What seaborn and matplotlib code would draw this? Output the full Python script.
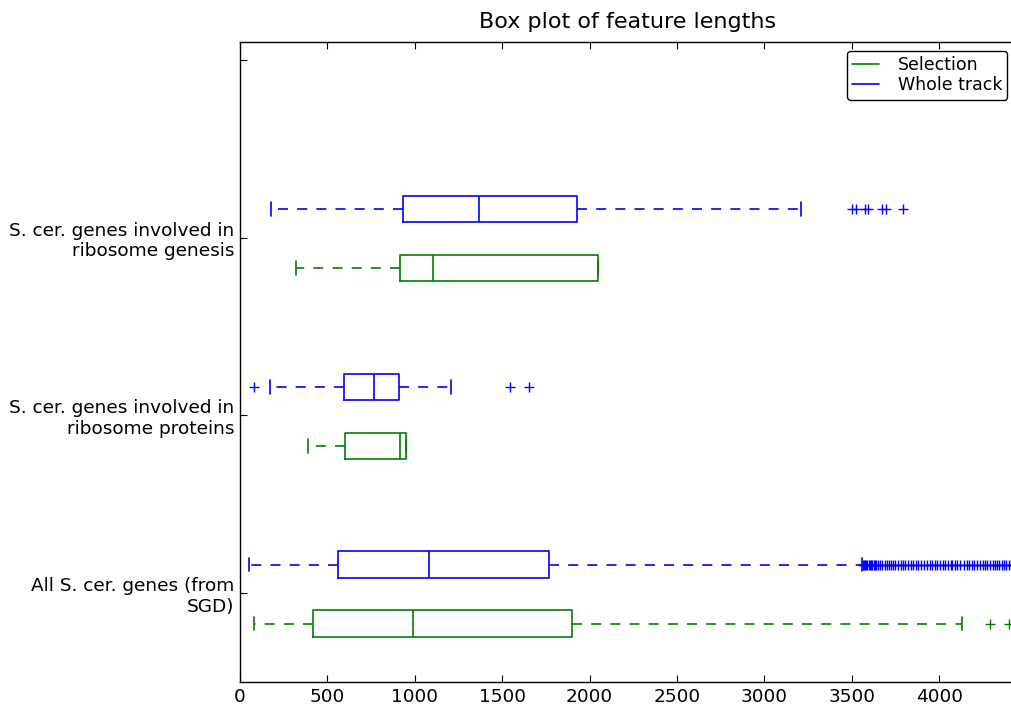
import matplotlib
matplotlib.use("Agg")
import matplotlib.pyplot as plt
from matplotlib.lines import Line2D
import seaborn as sns

# Feature groups (bottom to top)
categories = [
    "All S. cer. genes (from\nSGD)",
    "S. cer. genes involved in\nribosome proteins",
    "S. cer. genes involved in\nribosome genesis",
]
series_names = ["Selection", "Whole track"]

# Box statistics per group: whisker low, Q1, median, Q3, whisker high
selection_whislo = [81, 391, 322]
selection_q1 = [415, 601, 918]
selection_med = [991, 916, 1107]
selection_q3 = [1902, 951, 2047]
selection_whishi = [4131, 951, 2047]
selection_fliers = [
    [4289, 4398],
    [],
    [],
]

whole_whislo = [53, 171, 179]
whole_q1 = [563, 597, 935]
whole_med = [1083, 769, 1365]
whole_q3 = [1768, 912, 1927]
whole_whishi = [3558, 1208, 3210]
whole_fliers = [
    [3565, 3572, 3578, 3584, 3590, 3597, 3603, 3610, 3618, 3625, 3633, 3641,
     3650, 3662, 3675, 3690, 3703, 3712, 3724, 3738, 3750, 3766, 3780, 3792,
     3805, 3822, 3840, 3852, 3868, 3880, 3897, 3915, 3930, 3946, 3958, 3975,
     3990, 4008, 4022, 4035, 4050, 4066, 4074, 4090, 4105, 4121, 4140, 4158,
     4170, 4186, 4200, 4218, 4234, 4250, 4262, 4275, 4290, 4306, 4318, 4330,
     4345, 4360, 4372, 4385, 4398, 4410, 4425, 4436],
    [78, 1543, 1652],
    [3501, 3526, 3577, 3596, 3673, 3696, 3791],
]

x_ticks = [0, 500, 1000, 1500, 2000, 2500, 3000, 3500, 4000]

sns.set_style("white")
colors = sns.color_palette(["#008000", "#0000ff"])
plt.rcParams.update({
    "font.family": ["DejaVu Sans"],
    "font.size": 13.3,
    "text.color": "black",
    "axes.labelcolor": "black",
    "xtick.direction": "in",
    "ytick.direction": "in",
    "xtick.top": True,
    "ytick.right": False,
    "xtick.bottom": True,
    "ytick.left": True,
    "xtick.major.size": 5,
    "ytick.major.size": 5,
    "xtick.major.width": 0.8,
    "ytick.major.width": 0.8,
    "xtick.color": "black",
    "ytick.color": "black",
    "axes.edgecolor": "black",
    "axes.linewidth": 1.0,
})

fig = plt.figure(figsize=(10.11, 7.09), dpi=100)
ax = fig.add_axes([240 / 1011, 27 / 709, 776 / 1011, 640 / 709])

LW = 1.2
DASH = (0, (6, 5.5))


def build_stats(whislo, q1, med, q3, whishi, fliers):
    return [
        dict(whislo=a, q1=b, med=c, q3=d, whishi=e, fliers=f)
        for a, b, c, d, e, f in zip(whislo, q1, med, q3, whishi, fliers)
    ]


def draw(stats, positions, color):
    line = dict(color=color, linewidth=LW)
    ax.bxp(
        stats,
        positions=positions,
        widths=0.15,
        vert=False,
        showfliers=True,
        boxprops=line,
        medianprops=line,
        capprops=line,
        whiskerprops=dict(color=color, linewidth=LW, linestyle=DASH),
        flierprops=dict(marker="+", markeredgecolor=color, markersize=7,
                        markeredgewidth=1.0, linestyle="none"),
        manage_ticks=False,
    )


base = [1, 2, 3]
draw(build_stats(selection_whislo, selection_q1, selection_med, selection_q3,
                 selection_whishi, selection_fliers),
     [p - 0.172 for p in base], colors[0])
draw(build_stats(whole_whislo, whole_q1, whole_med, whole_q3,
                 whole_whishi, whole_fliers),
     [p + 0.16 for p in base], colors[1])

ax.set_xlim(0, 4440)
ax.set_ylim(0.5, 4.1)
ax.set_yticks([1, 2, 3, 4])
ax.set_yticklabels(categories + [""])
ax.set_xticks(x_ticks)
ax.set_xticklabels([str(t) for t in x_ticks])
ax.tick_params(axis="both", labelsize=13.3, pad=4)
ax.set_title("Box plot of feature lengths", fontsize=16, pad=10)

handles = [Line2D([0], [0], color=c, linewidth=LW) for c in colors]
leg = ax.legend(handles, series_names, loc="upper right", fontsize=12.5,
                fancybox=True, frameon=True, borderaxespad=0.5,
                handlelength=1.5, handletextpad=1.1, borderpad=0.3,
                labelspacing=0.15)
leg.get_frame().set_edgecolor("black")
leg.get_frame().set_linewidth(1.0)
leg.get_frame().set_alpha(1.0)

fig.savefig("out.png", dpi=100)
